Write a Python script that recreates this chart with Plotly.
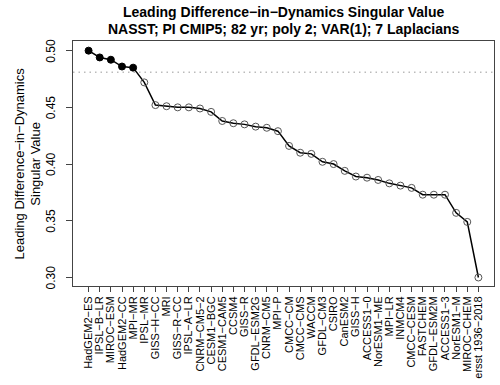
import plotly.graph_objects as go

# ---- data ----
models = [
    "HadGEM2−ES", "IPSL−B−LR", "MIROC−ESM", "HadGEM2−CC", "MPI−MR", "IPSL−MR",
    "GISS−H−CC", "MRI", "GISS−R−CC", "IPSL−A−LR", "CNRM−CM5−2", "CESM1−BGC",
    "CESM1−CAM5", "CCSM4", "GISS−R", "GFDL−ESM2G", "CNRM−CM5", "MPI−P",
    "CMCC−CM", "CMCC−CMS", "WACCM", "GFDL−CM3", "CSIRO", "CanESM2",
    "GISS−H", "ACCESS1−0", "NorESM1−ME", "MPI−LR", "INMCM4", "CMCC−CESM",
    "FASTCHEM", "GFDL−ESM2M", "ACCESS1−3", "NorESM1−M", "MIROC−CHEM", "ersst 1936−2018",
]
singular_values = [
    0.500, 0.494, 0.492, 0.486, 0.485, 0.472,
    0.452, 0.451, 0.450, 0.450, 0.449, 0.446,
    0.438, 0.436, 0.435, 0.433, 0.432, 0.429,
    0.416, 0.410, 0.409, 0.402, 0.400, 0.394,
    0.389, 0.388, 0.386, 0.383, 0.381, 0.379,
    0.373, 0.373, 0.373, 0.357, 0.349, 0.300,
]
significant = [True] * 5 + [False] * 31   # filled markers
threshold = 0.481
y_ticks = [0.30, 0.35, 0.40, 0.45, 0.50]

FONT = "Liberation Sans, Arial, sans-serif"

x = list(range(len(models)))
symbols = ["circle" if s else "circle-open" for s in significant]
colors = ["black" if s else "#555555" for s in significant]

fig = go.Figure()
fig.add_hline(y=threshold, line=dict(color="#bbbbbb", dash="1.5px,4px", width=1.5))
fig.add_trace(go.Scatter(
    x=x, y=singular_values, mode="lines+markers",
    line=dict(color="black", width=1.5),
    marker=dict(symbol=symbols, color=colors, size=7,
                line=dict(color=colors, width=1)),
    showlegend=False,
))

# title lines and y-axis title as annotations so they sit where the reference has them
fig.add_annotation(text="<b>Leading Difference−in−Dynamics Singular Value</b>",
                   xref="paper", yref="paper", x=0.5, y=1.0, yshift=29,
                   xanchor="center", yanchor="middle",
                   showarrow=False, font=dict(size=14))
fig.add_annotation(text="<b>NASST; PI CMIP5; 82 yr; poly 2; VAR(1); 7 Laplacians</b>",
                   xref="paper", yref="paper", x=0.5, y=1.0, yshift=12,
                   xanchor="center", yanchor="middle",
                   showarrow=False, font=dict(size=14))
fig.add_annotation(text="Leading Difference−in−Dynamics<br>Singular Value",
                   xref="paper", yref="paper", x=0, xshift=-46, y=0.5,
                   xanchor="center", yanchor="middle",
                   textangle=-90, showarrow=False, font=dict(size=13))
# rotated y tick labels (R style, parallel to the axis)
for v in y_ticks:
    fig.add_annotation(text=f"{v:.2f}", xref="paper", yref="y", x=0, xshift=-22,
                       y=v, xanchor="center", yanchor="middle",
                       textangle=-90, showarrow=False, font=dict(size=12))

fig.update_layout(
    width=500, height=385,
    paper_bgcolor="white", plot_bgcolor="white",
    margin=dict(l=73, r=6, t=41, b=99),
    font=dict(family=FONT, color="black", size=12),
)
fig.update_xaxes(
    range=[-1.4, 36.4], tickmode="array", tickvals=x, ticktext=models,
    tickangle=-90, ticks="outside", ticklen=5, tickcolor="#444",
    showgrid=False, zeroline=False, showline=True, linecolor="#444",
    linewidth=1, mirror=True, tickfont=dict(size=11), automargin=False,
)
fig.update_yaxes(
    range=[0.2925, 0.5085], tickmode="array", tickvals=y_ticks,
    showticklabels=False,
    ticks="outside", ticklen=6, tickcolor="#444",
    showgrid=False, zeroline=False, showline=True, linecolor="#444",
    linewidth=1, mirror=True, automargin=False,
)

fig.write_html("out.html", config={"displayModeBar": False},
               post_script="document.body.style.margin='0';")
